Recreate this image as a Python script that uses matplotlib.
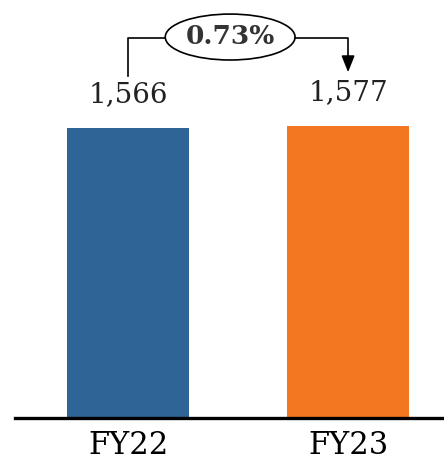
import matplotlib.pyplot as plt
from matplotlib.patches import Ellipse

# data
categories = ['FY22', 'FY23']
values = [1566, 1577]
value_labels = ['1,566', '1,577']
bar_colors = ['#2E6596', '#F37721']
growth_label = '0.73%'

fig = plt.figure(figsize=(4.44, 4.66), dpi=100)
ax = fig.add_axes([15 / 444, 1 - 418 / 466, 429 / 444, 418 / 466])

x = list(range(len(categories)))
ax.bar(x, values, width=0.555, color=bar_colors, zorder=2)

ax.set_xlim(-0.514, 1.436)
ax.set_ylim(0, 2257)

# value labels above bars
for xi, v, lab in zip(x, values, value_labels):
    ax.annotate(lab, (xi, v), xytext=(0, 14), textcoords='offset points',
                ha='center', va='bottom', fontsize=20, family='DejaVu Serif',
                color='#222222')

# bracket with growth ellipse
y_top = 2052
ell_x, ell_w = 0.464, 0.59
ax.plot([x[0], x[0], ell_x - ell_w / 2], [1847, y_top, y_top],
        color='black', lw=1.2, clip_on=False)
ax.plot([ell_x + ell_w / 2, x[1], x[1]], [y_top, y_top, 1950],
        color='black', lw=1.2, clip_on=False)
ax.annotate('', xy=(x[1], 1852), xytext=(x[1], 1960),
            arrowprops=dict(arrowstyle='-|>,head_length=1.0,head_width=0.4',
                            color='black', lw=1.2))
ax.add_patch(Ellipse((ell_x, 2057), ell_w, 248, facecolor='white',
                     edgecolor='black', lw=1.2, clip_on=False))
ax.text(ell_x, 2060, growth_label, ha='center', va='center', fontsize=19,
        fontweight='bold', family='DejaVu Serif', color='#333333')

# axes styling
for s in ['top', 'right', 'left']:
    ax.spines[s].set_visible(False)
ax.spines['bottom'].set_linewidth(2.4)
ax.spines['bottom'].set_zorder(3)
ax.set_yticks([])
ax.set_xticks(x)
ax.set_xticklabels(categories, fontsize=22, family='DejaVu Serif')
ax.tick_params(axis='x', length=0, pad=9)

fig.savefig('out.png', dpi=100, facecolor='white')
